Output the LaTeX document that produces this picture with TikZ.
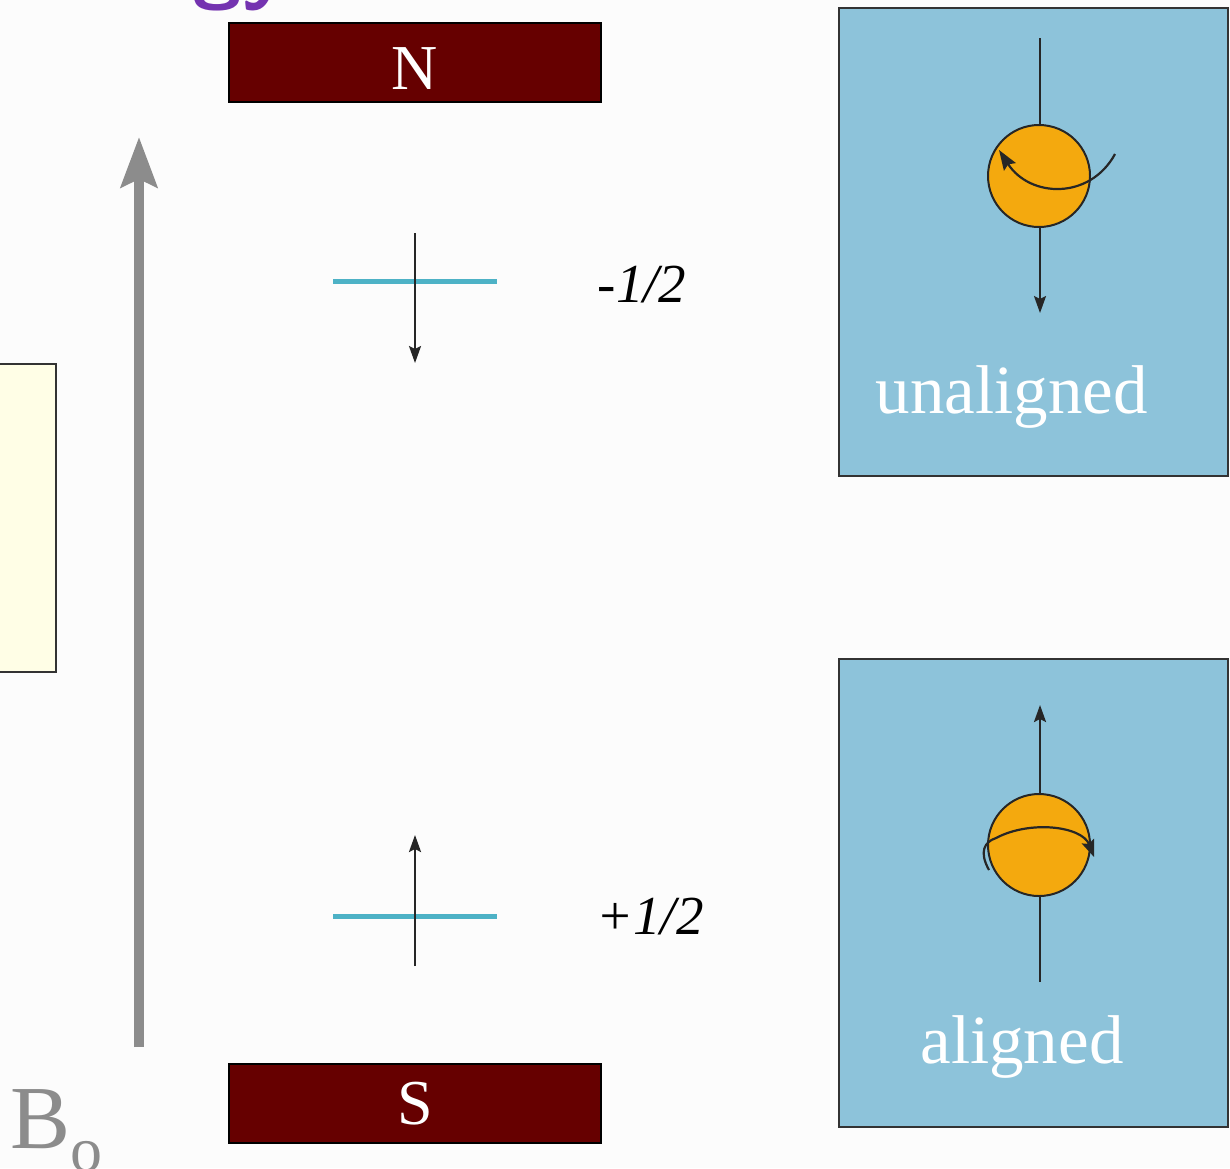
\documentclass[tikz,border=0pt]{standalone}
\usepackage{fontspec}
\setmainfont{Liberation Serif}
\usetikzlibrary{arrows.meta}
\definecolor{magnet}{HTML}{660000}
\definecolor{panel}{HTML}{8DC3DA}
\definecolor{ball}{HTML}{F4A90E}
\definecolor{level}{HTML}{4DB2C6}
\definecolor{field}{HTML}{8C8C8C}
\definecolor{note}{HTML}{FFFEE6}
\definecolor{title}{HTML}{7433B0}
\definecolor{paper}{HTML}{FCFCFC}
\tikzset{
  magnetbar/.style={draw=black, line width=2pt, fill=magnet, text=white,
    minimum width=372pt, minimum height=79pt, inner sep=0pt,
    font=\fontsize{64}{70}\selectfont},
  spinpanel/.style={draw=black!80, line width=2pt, fill=panel,
    minimum width=389pt, minimum height=468pt, inner sep=0pt},
  nucleus/.style={circle, draw=black!85, line width=2pt, fill=ball,
    minimum size=102pt, inner sep=0pt},
  levelline/.style={draw=level, line width=5pt},
  spinarrow/.style={draw=black!85, line width=2.2pt,
    -{Stealth[length=17pt,width=12pt,inset=3pt]}},
  panellabel/.style={text=white, font=\fontsize{69}{74}\selectfont, inner sep=0pt},
  levellabel/.style={font=\fontsize{55}{60}\selectfont\itshape, inner sep=0pt}
}
\begin{document}
\begin{tikzpicture}[x=1pt,y=-1pt]
\useasboundingbox (0,0) rectangle (1230,1168);
\clip (0,0) rectangle (1230,1168);
\fill[paper] (0,0) rectangle (1230,1168);

% title descenders cut off by the top edge
\node[text=title, font=\fontsize{90}{96}\selectfont\bfseries\sffamily, anchor=base, inner sep=0pt]
  (titletail) at (240,-8) {gy};

% note box at the left edge
\node[draw=black!80, line width=2pt, fill=note, minimum width=80pt, minimum height=308pt,
  inner sep=0pt] (notebox) at (16,518) {};

% magnet poles
\node[magnetbar, anchor=north] (north) at (415,22) {};
\node[text=white, font=\fontsize{64}{70}\selectfont, anchor=base, inner sep=0pt]
  (northlabel) at (north.center |- 0,89) {N};
\node[magnetbar] (south) at (415,1103.5) {S};

% external field arrow
\coordinate (fieldfoot) at (139,1047);
\coordinate (fieldtip) at (139,137);
\draw[draw=field, line width=10pt,
  -{Stealth[length=50pt,width=36pt,inset=8pt]}] (fieldfoot) -- (fieldtip);
\node[text=field, font=\fontsize{90}{94}\selectfont, anchor=base west, inner sep=0pt]
  (bzero) at (10,1148) {B\raisebox{-0.26em}{\fontsize{64}{68}\selectfont o}};

% energy levels
\coordinate (upperL) at (333,281);
\coordinate (upperR) at (497,281);
\draw[levelline] (upperL) -- (upperR);
\coordinate (upperTop) at (415,233);
\coordinate (upperBot) at (415,363);
\draw[spinarrow] (upperTop) -- (upperBot);
\node[levellabel, anchor=base] (minushalf) at (642,302) {-1/2};

\coordinate (lowerL) at (333,916);
\coordinate (lowerR) at (497,916);
\draw[levelline] (lowerL) -- (lowerR);
\coordinate (lowerBot) at (415,966);
\coordinate (lowerTop) at (415,835);
\draw[spinarrow] (lowerBot) -- (lowerTop);
\node[levellabel, anchor=base] (plushalf) at (650,934) {+1/2};

% unaligned spin
\node[spinpanel] (unpanel) at (1033.5,242) {};
\coordinate (unTop) at (1040,38);
\coordinate (unBot) at (1040,313);
\draw[spinarrow] (unTop) -- (unBot);
\node[nucleus] (unball) at (1039,176) {};
\coordinate (unSpinStart) at (1115,154);
\coordinate (unSpinEnd) at (999,150);
\draw[spinarrow, -{Stealth[length=20pt,width=14pt,inset=3pt]}]
  (unSpinStart) .. controls (1090,200) and (1030,198) .. (unSpinEnd);
\node[panellabel, anchor=base] (unlabel) at (1012,413) {unaligned};

% aligned spin
\node[spinpanel] (alpanel) at (1033.5,893) {};
\coordinate (alBot) at (1040,982);
\coordinate (alTop) at (1040,705);
\draw[spinarrow] (alBot) -- (alTop);
\node[nucleus] (alball) at (1039,845) {};
\coordinate (alSpinStart) at (989,870);
\coordinate (alSpinEnd) at (1094,857);
\draw[spinarrow, -{Stealth[length=17pt,width=13pt,inset=3pt]}]
  (alSpinStart) .. controls (979,852) and (984,842) .. (996,838)
  .. controls (1030,820) and (1082,826) .. (alSpinEnd);
\node[panellabel, anchor=base] (allabel) at (1022,1063) {aligned};
\end{tikzpicture}
\end{document}
